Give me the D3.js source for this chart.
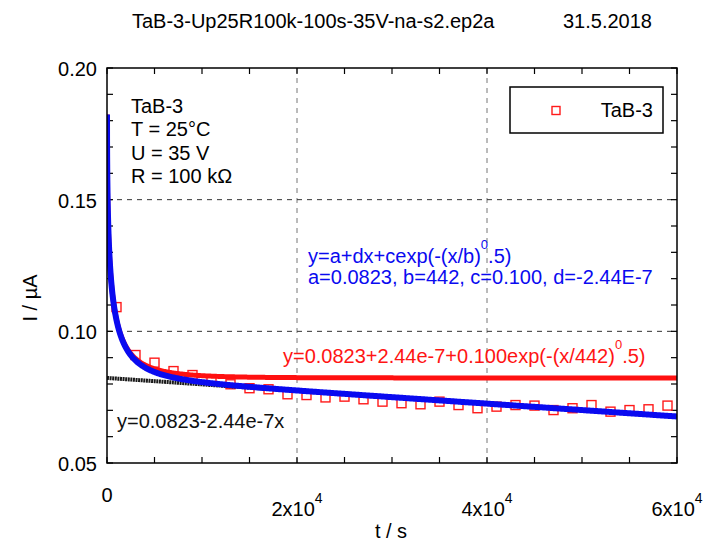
<!DOCTYPE html>
<html>
<head>
<meta charset="utf-8">
<script src="https://cdn.jsdelivr.net/npm/d3@7/dist/d3.min.js"></script>
<style>
  html, body { margin: 0; padding: 0; background: #fff; }
  svg { display: block; }
  text { font-family: "Liberation Sans", Arial, Helvetica, sans-serif; }
</style>
</head>
<body>
<svg id="chart" width="704" height="544"></svg>
<script>
// Measured current of sample TaB-3 (every 2000 s)
const times = [1000, 3000, 5000, 7000, 9000, 11000, 13000, 15000, 17000, 19000,
               21000, 23000, 25000, 27000, 29000, 31000, 33000, 35000, 37000, 39000,
               41000, 43000, 45000, 47000, 49000, 51000, 53000, 55000, 57000, 59000];
const currents = [0.1092, 0.0910, 0.0881, 0.0849, 0.0834, 0.0815, 0.0799, 0.0784, 0.0780, 0.0761,
                  0.0758, 0.0749, 0.0752, 0.0742, 0.0733, 0.0727, 0.0723, 0.0733, 0.0720, 0.0708,
                  0.0714, 0.0720, 0.0718, 0.0701, 0.0708, 0.0720, 0.0695, 0.0701, 0.0704, 0.0718];

// Fit parameters y = a + d*x + c*exp(-(x/b)^0.5)
const fitNames = ["a", "b", "c", "d"];
const fitValues = [0.0823, 442, 0.100, -2.44e-7];

// Axis ticks
const xTicks = [0, 20000, 40000, 60000];
const xTickLabels = [["0", ""], ["2x10", "4"], ["4x10", "4"], ["6x10", "4"]];
const yTicks = [0.05, 0.10, 0.15, 0.20];
const yTickLabels = ["0.05", "0.10", "0.15", "0.20"];

const titleText = "TaB-3-Up25R100k-100s-35V-na-s2.ep2a";
const dateText = "31.5.2018";
const infoLines = ["TaB-3", "T = 25\u00B0C", "U = 35 V", "R = 100 k\u03A9"];
const legendLabel = "TaB-3";

const svg = d3.select("#chart");
const L = 107, R = 677, T = 68, B = 463;
const x = d3.scaleLinear().domain([0, 60000]).range([L, R]);
const y = d3.scaleLinear().domain([0.05, 0.20]).range([B, T]);

const [a, b, c, d] = fitValues;
const fitFull = t => a + d * t + c * Math.exp(-Math.sqrt(t / b));
const fitShifted = t => a - d + c * Math.exp(-Math.sqrt(t / b));
const linear = t => a + d * t;

// sampling grid for the fitted curves, denser near t = 0
const grid = d3.range(0, 2000, 5).concat(d3.range(2000, 60001, 100));

svg.append("defs").append("clipPath").attr("id", "plotclip")
  .append("rect").attr("x", L).attr("y", T).attr("width", R - L).attr("height", B - T);

// grid lines
const gridG = svg.append("g");
[20000, 40000].forEach(v => {
  gridG.append("line").attr("x1", x(v)).attr("x2", x(v)).attr("y1", T).attr("y2", B)
    .attr("stroke", "#777").attr("stroke-width", 1).attr("stroke-dasharray", "5,5");
});
[0.10, 0.15].forEach(v => {
  gridG.append("line").attr("x1", L).attr("x2", R).attr("y1", y(v)).attr("y2", y(v))
    .attr("stroke", "#333").attr("stroke-width", 1).attr("stroke-dasharray", "5,5");
});

// minor/major ticks, inward on all four sides
const tk = svg.append("g").attr("stroke", "#000").attr("stroke-width", 1.2);
d3.range(0, 60001, 5000).forEach(v => {
  tk.append("line").attr("x1", x(v)).attr("x2", x(v)).attr("y1", B).attr("y2", B - 6);
  tk.append("line").attr("x1", x(v)).attr("x2", x(v)).attr("y1", T).attr("y2", T + 6);
});
d3.range(0, 16).map(i => 0.05 + i * 0.01).forEach(v => {
  tk.append("line").attr("x1", L).attr("x2", L + 6).attr("y1", y(v)).attr("y2", y(v));
  tk.append("line").attr("x1", R).attr("x2", R - 6).attr("y1", y(v)).attr("y2", y(v));
});

const plot = svg.append("g").attr("clip-path", "url(#plotclip)");

// data points
plot.append("g").selectAll("rect").data(times).join("rect")
  .attr("x", (t) => x(t) - 4.5)
  .attr("y", (t, i) => y(currents[i]) - 4.5)
  .attr("width", 9).attr("height", 9)
  .attr("fill", "none").attr("stroke", "#ff1a1a").attr("stroke-width", 1.4);

const line = f => d3.line().x(t => x(t)).y(t => y(f(t)));

plot.append("path").datum(grid).attr("d", line(linear))
  .attr("fill", "none").attr("stroke", "#1a1a1a").attr("stroke-width", 4)
  .attr("stroke-dasharray", "2,0.6");
plot.append("path").datum(grid).attr("d", line(fitShifted))
  .attr("fill", "none").attr("stroke", "#ff1010").attr("stroke-width", 5);
plot.append("path").datum(grid).attr("d", line(fitFull))
  .attr("fill", "none").attr("stroke", "#0a0af0").attr("stroke-width", 6);

// frame
svg.append("rect").attr("x", L).attr("y", T).attr("width", R - L).attr("height", B - T)
  .attr("fill", "none").attr("stroke", "#000").attr("stroke-width", 1.5);

// axis labels
const fs = 20;
yTicks.forEach((v, i) => {
  svg.append("text").attr("x", 97).attr("y", y(v) + 8).attr("text-anchor", "end")
    .attr("font-size", fs).text(yTickLabels[i]);
});
xTicks.forEach((v, i) => {
  const [base, sup] = xTickLabels[i];
  const t = svg.append("text").attr("x", x(v)).attr("text-anchor", "middle").attr("font-size", fs);
  if (!sup) {
    t.attr("y", 502).text(base);
  } else {
    t.attr("y", 516);
    t.append("tspan").text(base);
    t.append("tspan").attr("font-size", 14).attr("dy", -13).text(sup);
  }
});

svg.append("text").attr("x", 391).attr("y", 538).attr("text-anchor", "middle")
  .attr("font-size", fs).text("t / s");
svg.append("text").attr("transform", "translate(37,298) rotate(-90)").attr("text-anchor", "middle")
  .attr("font-size", fs).text("I / \u00B5A");

// title
svg.append("text").attr("x", 132).attr("y", 28).attr("font-size", fs).text(titleText);
svg.append("text").attr("x", 563).attr("y", 28).attr("font-size", fs).text(dateText);

// sample info
infoLines.forEach((s, i) => {
  svg.append("text").attr("x", 131).attr("y", 113 + i * 23.4).attr("font-size", fs).text(s);
});

// legend
svg.append("rect").attr("x", 510).attr("y", 87).attr("width", 153).attr("height", 46)
  .attr("fill", "#fff").attr("stroke", "#000").attr("stroke-width", 1.5);
svg.append("rect").attr("x", 552).attr("y", 106.5).attr("width", 8).attr("height", 8)
  .attr("fill", "none").attr("stroke", "#ff1a1a").attr("stroke-width", 1.4);
svg.append("text").attr("x", 653).attr("y", 117).attr("text-anchor", "end")
  .attr("font-size", fs).text(legendLabel);

// fit equations
function supText(sel, pre, sup, post, color) {
  sel.attr("fill", color).attr("font-size", fs);
  sel.append("tspan").text(pre);
  sel.append("tspan").attr("font-size", 13).attr("dy", -14).text(sup);
  sel.append("tspan").attr("dy", 14).text(post);
}
supText(svg.append("text").attr("x", 308).attr("y", 263),
  "y=" + fitNames[0] + "+" + fitNames[3] + "x+" + fitNames[2] + "exp(-(x/" + fitNames[1] + ")", "0", ".5)", "#0a0af0");
svg.append("text").attr("x", 308).attr("y", 284).attr("fill", "#0a0af0").attr("font-size", fs)
  .text("a=" + a + ", b=" + b + ", c=" + c.toFixed(3) + ", d=-2.44E-7");
supText(svg.append("text").attr("x", 283).attr("y", 363),
  "y=" + a + "+2.44e-7+" + c.toFixed(3) + "exp(-(x/" + b + ")", "0", ".5)", "#ff1414");
svg.append("text").attr("x", 117).attr("y", 428).attr("fill", "#111").attr("font-size", fs)
  .text("y=" + a + "-2.44e-7x");
</script>
</body>
</html>
